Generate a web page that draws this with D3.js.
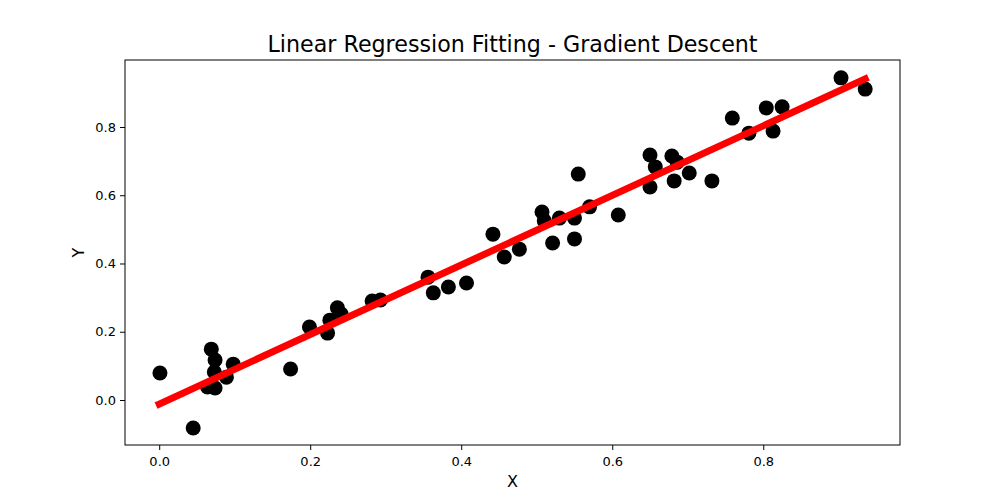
<!DOCTYPE html>
<html>
<head>
<meta charset="utf-8">
<script src="https://cdn.jsdelivr.net/npm/d3@7"></script>
<style>
  body { margin: 0; background: #fff; }
  text { font-family: "DejaVu Sans", sans-serif; }
</style>
</head>
<body>
<div id="chart"></div>
<script>
// sample points
var xValues = [0.001, 0.045, 0.069, 0.074, 0.073, 0.064, 0.074, 0.089, 0.098, 0.174,
  0.199, 0.223, 0.226, 0.236, 0.241, 0.282, 0.293, 0.356, 0.363, 0.383,
  0.407, 0.442, 0.457, 0.477, 0.507, 0.510, 0.521, 0.530, 0.550, 0.550,
  0.555, 0.570, 0.608, 0.650, 0.657, 0.650, 0.679, 0.686, 0.702, 0.682,
  0.732, 0.759, 0.781, 0.804, 0.825, 0.813, 0.903, 0.935];
var yValues = [0.079, -0.082, 0.149, 0.117, 0.082, 0.038, 0.035, 0.067, 0.105, 0.091,
  0.214, 0.196, 0.234, 0.270, 0.252, 0.290, 0.293, 0.360, 0.314, 0.331,
  0.343, 0.486, 0.419, 0.442, 0.551, 0.525, 0.460, 0.533, 0.533, 0.472,
  0.662, 0.566, 0.542, 0.718, 0.683, 0.624, 0.715, 0.697, 0.665, 0.642,
  0.642, 0.826, 0.782, 0.856, 0.859, 0.788, 0.944, 0.911];

// fitted line end points
var fitX = [0.0, 0.935];
var fitY = [-0.012, 0.941];

var xTicks = [0.0, 0.2, 0.4, 0.6, 0.8];
var yTicks = [0.0, 0.2, 0.4, 0.6, 0.8];

var svgWidth = 1000, svgHeight = 500;
var margin = { top: 60, right: 100, bottom: 55, left: 125 };
var width = svgWidth - margin.left - margin.right;
var height = svgHeight - margin.top - margin.bottom;

var svg = d3.select("#chart").append("svg")
  .attr("width", svgWidth)
  .attr("height", svgHeight);

var g = svg.append("g")
  .attr("transform", `translate(${margin.left}, ${margin.top})`);

var x = d3.scaleLinear().domain([-0.0453, 0.9811]).range([0, width]);
var y = d3.scaleLinear().domain([-0.1319, 0.9963]).range([height, 0]);

var points = xValues.map((d, i) => ({ x: d, y: yValues[i] }));

// points
g.selectAll("circle")
  .data(points)
  .enter()
  .append("circle")
  .attr("cx", d => x(d.x))
  .attr("cy", d => y(d.y))
  .attr("r", 7.5)
  .attr("fill", "black");

// regression line
var line = d3.line().x(d => x(d[0])).y(d => y(d[1]));
g.append("path")
  .datum(fitX.map((d, i) => [d, fitY[i]]))
  .attr("d", line)
  .attr("fill", "none")
  .attr("stroke", "red")
  .attr("stroke-width", 7)
  .attr("stroke-linecap", "square");

// axes
var bottomAxis = d3.axisBottom(x).tickValues(xTicks).tickFormat(d3.format(".1f"))
  .tickSizeInner(5).tickSizeOuter(0).tickPadding(4);
var leftAxis = d3.axisLeft(y).tickValues(yTicks).tickFormat(d3.format(".1f"))
  .tickSizeInner(5).tickSizeOuter(0).tickPadding(4);

var xAxis = g.append("g")
  .attr("transform", `translate(0, ${height})`)
  .call(bottomAxis);
var yAxis = g.append("g").call(leftAxis);

[xAxis, yAxis].forEach(a => {
  a.select(".domain").remove();
  a.selectAll("text").style("font-size", "13px").style("fill", "black")
    .style("font-family", "DejaVu Sans, sans-serif");
  a.selectAll("line").attr("stroke", "black");
});
xAxis.selectAll("text").attr("dy", "0.9em");

// frame
g.append("rect")
  .attr("width", width)
  .attr("height", height)
  .attr("fill", "none")
  .attr("stroke", "black")
  .attr("stroke-width", 1);

// title and labels
svg.append("text")
  .attr("x", margin.left + width / 2)
  .attr("y", 52)
  .attr("text-anchor", "middle")
  .style("font-size", "22.2px")
  .text("Linear Regression Fitting - Gradient Descent");

svg.append("text")
  .attr("x", margin.left + width / 2)
  .attr("y", 487)
  .attr("text-anchor", "middle")
  .style("font-size", "16px")
  .text("X");

svg.append("text")
  .attr("transform", `translate(84, ${margin.top + height / 2}) rotate(-90)`)
  .attr("text-anchor", "middle")
  .style("font-size", "16px")
  .text("Y");
</script>
</body>
</html>
